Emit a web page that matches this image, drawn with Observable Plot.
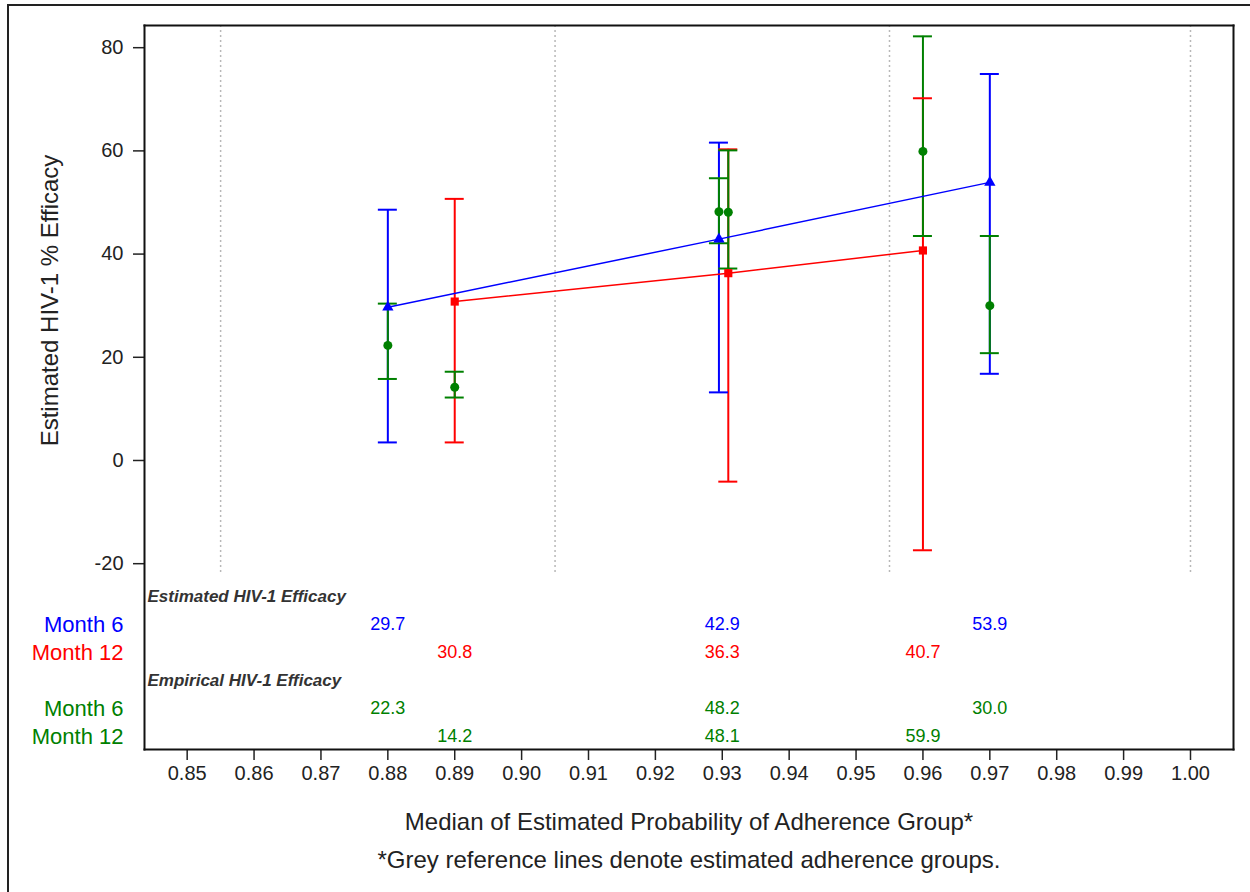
<!DOCTYPE html>
<html><head><meta charset="utf-8">
<script src="https://cdn.jsdelivr.net/npm/d3@7"></script>
<script src="https://cdn.jsdelivr.net/npm/@observablehq/plot@0.6"></script>
<style>
body{margin:0;background:#fff;}
#wrap{position:relative;width:1250px;height:892px;overflow:hidden;background:#fff;}
#wrap svg{display:block;}
#border{position:absolute;left:7px;top:4px;width:1300px;height:1000px;border-top:2px solid #222;border-left:2px solid #222;pointer-events:none;}
g[aria-label="table-header"] text{letter-spacing:1px;}
</style></head><body><div id="wrap"><div id="border"></div></div>
<script>
// ---- data ----
const xMonth6 = [0.88, 0.9295, 0.97];      // plotted positions, Month 6 groups
const xMonth12 = [0.89, 0.9309, 0.96];     // plotted positions, Month 12 groups
const xTable6 = [0.88, 0.93, 0.97];        // table column positions, Month 6
const xTable12 = [0.89, 0.93, 0.96];       // table column positions, Month 12

const estM6 = [29.7, 42.9, 53.9];
const estM6Lo = [3.5, 13.2, 16.8];
const estM6Hi = [48.6, 61.6, 74.9];

const estM12 = [30.8, 36.3, 40.7];
const estM12Lo = [3.5, -4.1, -17.4];
const estM12Hi = [50.7, 60.3, 70.2];

const empM6 = [22.3, 48.2, 30.0];
const empM6Lo = [15.8, 42.1, 20.8];
const empM6Hi = [30.4, 54.7, 43.5];

const empM12 = [14.2, 48.1, 59.9];
const empM12Lo = [12.2, 37.2, 43.5];
const empM12Hi = [17.2, 60.1, 82.2];

const refLines = [0.855, 0.905, 0.955, 1.0];
const yTicks = [-20, 0, 20, 40, 60, 80];
const xTicks = [0.85, 0.86, 0.87, 0.88, 0.89, 0.90, 0.91, 0.92, 0.93, 0.94, 0.95, 0.96, 0.97, 0.98, 0.99, 1.00];

const headerEst = "Estimated HIV-1 Efficacy";
const headerEmp = "Empirical HIV-1 Efficacy";
const rowLabels = ["Month 6", "Month 12", "Month 6", "Month 12"];
const yLabel = "Estimated HIV-1 % Efficacy";
const xLabel = "Median of Estimated Probability of Adherence Group*";
const footnote = "*Grey reference lines denote estimated adherence groups.";

const BLUE = "#0000ff", RED = "#ff0000", GREEN = "#008000";
const FONT = "'Liberation Sans', Arial, sans-serif";

// ---- build series ----
const series = [
  {key: "est6", kind: "est", color: BLUE, xs: xMonth6, tx: xTable6, v: estM6, lo: estM6Lo, hi: estM6Hi, row: "r1", label: rowLabels[0]},
  {key: "est12", kind: "est", color: RED, xs: xMonth12, tx: xTable12, v: estM12, lo: estM12Lo, hi: estM12Hi, row: "r2", label: rowLabels[1]},
  {key: "emp6", kind: "emp", color: GREEN, xs: xMonth6, tx: xTable6, v: empM6, lo: empM6Lo, hi: empM6Hi, row: "r4", label: rowLabels[2]},
  {key: "emp12", kind: "emp", color: GREEN, xs: xMonth12, tx: xTable12, v: empM12, lo: empM12Lo, hi: empM12Hi, row: "r5", label: rowLabels[3]}
];
const pts = series.flatMap(s => s.v.map((v, i) => ({key: s.key, kind: s.kind, color: s.color, x: s.xs[i], tx: s.tx[i], v, lo: s.lo[i], hi: s.hi[i], row: s.row})));
const rowKeys = ["r0", "r1", "r2", "r3", "r4", "r5"];
const headers = [{row: "r0", label: headerEst}, {row: "r3", label: headerEmp}];

const xDomain = [0.84362, 1.00643];
const fmt = d3.format(".1f");

const barOrder = ["est6", "est12", "emp6", "emp12"];
const bars = barOrder.flatMap(k => pts.filter(p => p.key === k));

const topPlot = Plot.plot({
  width: 1250, height: 575,
  marginLeft: 144, marginRight: 17, marginTop: 25, marginBottom: 0,
  style: {fontFamily: FONT, fontSize: "20px", color: "#222", background: "transparent"},
  x: {domain: xDomain, axis: null},
  y: {domain: [-22.29, 84.3]},
  marks: [
    Plot.ruleX(refLines, {stroke: "#b8b8b8", strokeWidth: 1.5, strokeDasharray: "2,3"}),
    Plot.axisY(yTicks, {tickSize: 11, tickPadding: 10, strokeWidth: 1.5, fontSize: 20, tickFormat: d => String(d),
      label: yLabel, labelAnchor: "center", labelOffset: 104, labelArrow: "none"}),
    Plot.ruleX(bars, {x: "x", y1: "lo", y2: "hi", stroke: "color", strokeWidth: 2}),
    Plot.ruleY(bars, {x1: "x", x2: "x", y: "lo", stroke: "color", strokeWidth: 2, insetLeft: -9.5, insetRight: -9.5}),
    Plot.ruleY(bars, {x1: "x", x2: "x", y: "hi", stroke: "color", strokeWidth: 2, insetLeft: -9.5, insetRight: -9.5}),
    Plot.line(pts.filter(p => p.kind === "est"), {x: "x", y: "v", z: "key", stroke: "color", strokeWidth: 1.5}),
    Plot.dot(pts.filter(p => p.key === "est6"), {x: "x", y: "v", fill: "color", symbol: "triangle", r: 4.2}),
    Plot.dot(pts.filter(p => p.key === "est12"), {x: "x", y: "v", fill: "color", symbol: "square", r: 4.6}),
    Plot.dot(pts.filter(p => p.kind === "emp"), {x: "x", y: "v", fill: "color", symbol: "circle", r: 4.5}),
    Plot.frame({anchor: "left", stroke: "#111", strokeWidth: 2}),
    Plot.frame({anchor: "top", stroke: "#111", strokeWidth: 2}),
    Plot.frame({anchor: "right", stroke: "#111", strokeWidth: 2})
  ]
});
// bigger axis title font
topPlot.querySelectorAll('g[aria-label="y-axis label"] text').forEach(t => t.setAttribute("font-size", 24));

const bottomPlot = Plot.plot({
  width: 1250, height: 317,
  marginLeft: 144, marginRight: 17, marginTop: 0, marginBottom: 143,
  style: {fontFamily: FONT, fontSize: "20px", color: "#222", background: "transparent"},
  x: {domain: xDomain},
  y: {type: "point", domain: rowKeys, range: [20, 161], padding: 0, axis: null},
  marks: [
    Plot.text(headers, {y: "row", text: "label", frameAnchor: "left", textAnchor: "start", dx: 3, ariaLabel: "table-header",
      fontStyle: "italic", fontWeight: "bold", fontSize: 17, fill: "#333"}),
    Plot.text(series, {y: "row", text: "label", frameAnchor: "left", textAnchor: "end", dx: -21, fill: "color", fontSize: 22}),
    Plot.text(pts, {x: "tx", y: "row", text: d => fmt(d.v), fill: "color", fontSize: 18}),
    Plot.axisX(xTicks, {tickSize: 11, tickPadding: 5, strokeWidth: 1.5, fontSize: 20, tickFormat: d3.format(".2f"),
      label: xLabel, labelAnchor: "center", labelOffset: 80, labelArrow: "none"}),
    Plot.text([footnote], {frameAnchor: "bottom", dy: 118, fontSize: 24, fill: "#222"}),
    Plot.frame({anchor: "left", stroke: "#111", strokeWidth: 2}),
    Plot.frame({anchor: "right", stroke: "#111", strokeWidth: 2}),
    Plot.frame({anchor: "bottom", stroke: "#111", strokeWidth: 2})
  ]
});
bottomPlot.querySelectorAll('g[aria-label="x-axis label"] text').forEach(t => t.setAttribute("font-size", 24));

const wrap = document.getElementById("wrap");
wrap.appendChild(topPlot);
wrap.appendChild(bottomPlot);
</script>
</body></html>
